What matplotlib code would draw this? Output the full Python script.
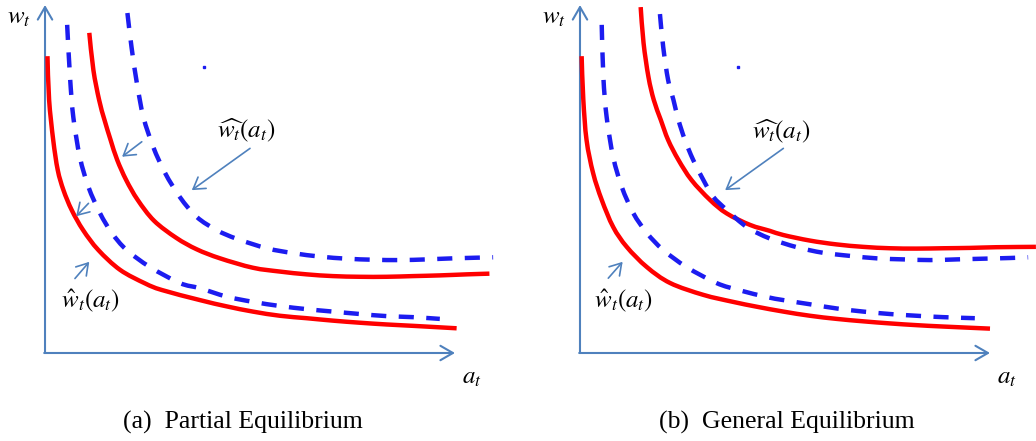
import matplotlib
matplotlib.use('Agg')
import matplotlib.pyplot as plt
from matplotlib.path import Path
from matplotlib.patches import PathPatch

plt.rcParams['mathtext.fontset'] = 'stix'

# curves, a_t on x (axis runs 0..10), w_t on y (0..10)
# panel (a) partial equilibrium
pe_red_low_a = [0.06, 0.10, 0.20, 0.31, 0.45, 0.65, 0.93, 1.30, 1.83, 2.44, 2.85,
                3.78, 4.43, 5.07, 5.73, 6.38, 7.02, 7.68, 8.33, 8.98, 10.04]
pe_red_low_w = [8.53, 7.27, 6.12, 5.26, 4.68, 4.11, 3.53, 2.96, 2.39, 2.00, 1.81,
                1.52, 1.34, 1.19, 1.07, 1.00, 0.93, 0.87, 0.82, 0.78, 0.71]
pe_blue_low_a = [0.54, 0.61, 0.69, 0.85, 1.06, 1.34, 1.63, 1.99, 2.56, 3.29,
                 3.78, 4.43, 5.07, 5.73, 6.38, 7.02, 7.68, 8.33, 8.98, 9.63]
pe_blue_low_w = [9.43, 7.93, 6.78, 5.63, 4.77, 4.02, 3.45, 2.96, 2.47, 2.01,
                 1.86, 1.62, 1.47, 1.35, 1.26, 1.19, 1.12, 1.06, 1.03, 0.98]
pe_red_high_a = [1.08, 1.18, 1.32, 1.45, 1.60, 1.76, 1.98, 2.26, 2.66, 3.20, 3.70,
                 4.27, 5.07, 5.73, 6.38, 7.02, 7.68, 8.33, 8.98, 9.63, 10.29, 10.84]
pe_red_high_w = [9.20, 8.13, 7.27, 6.70, 6.12, 5.55, 4.97, 4.40, 3.80, 3.31, 2.98,
                 2.72, 2.45, 2.34, 2.26, 2.21, 2.19, 2.19, 2.21, 2.23, 2.26, 2.28]
pe_blue_high_a = [2.01, 2.11, 2.24, 2.40, 2.64, 2.93, 3.29, 3.70, 4.19, 4.68,
                  5.41, 6.05, 6.71, 7.36, 8.00, 8.66, 9.31, 9.95, 10.93]
pe_blue_high_w = [9.77, 8.79, 7.76, 6.78, 5.92, 5.17, 4.48, 3.91, 3.53, 3.28,
                  3.01, 2.87, 2.77, 2.71, 2.68, 2.67, 2.69, 2.72, 2.75]

# panel (b) general equilibrium
ge_red_low_a = [0.04, 0.08, 0.16, 0.32, 0.53, 0.81, 1.14, 1.63, 2.20, 3.01,
                3.73, 4.31, 4.96, 5.61, 6.26, 6.91, 7.56, 8.21, 8.86, 10.00]
ge_red_low_w = [8.53, 7.30, 6.12, 5.17, 4.40, 3.62, 3.05, 2.47, 2.01, 1.67,
                1.47, 1.33, 1.19, 1.07, 0.98, 0.91, 0.85, 0.80, 0.76, 0.70]
ge_blue_low_a = [0.53, 0.57, 0.65, 0.81, 1.02, 1.30, 1.63, 2.03, 2.60, 3.33,
                 3.90, 4.55, 4.96, 5.61, 6.26, 6.91, 7.56, 8.21, 8.86, 9.63]
ge_blue_low_w = [9.43, 7.93, 6.78, 5.63, 4.77, 4.02, 3.45, 2.96, 2.47, 2.01,
                 1.80, 1.61, 1.52, 1.40, 1.28, 1.19, 1.12, 1.07, 1.03, 1.00]
ge_red_high_a = [1.48, 1.55, 1.67, 1.80, 1.97, 2.15, 2.40, 2.72, 3.17, 3.58, 4.15,
                 4.63, 4.96, 5.61, 6.26, 6.91, 7.56, 8.21, 8.86, 9.51, 10.16, 11.12]
ge_red_high_w = [9.94, 8.91, 7.93, 7.27, 6.70, 6.12, 5.55, 4.97, 4.40, 4.01, 3.68,
                 3.51, 3.39, 3.23, 3.12, 3.05, 3.01, 3.00, 3.01, 3.02, 3.04, 3.05]
ge_blue_high_a = [1.95, 2.03, 2.15, 2.28, 2.40, 2.56, 2.76, 3.01, 3.25, 3.58, 4.07,
                  4.63, 5.29, 5.93, 6.59, 7.24, 7.89, 8.54, 9.19, 9.84, 10.49, 10.93]
ge_blue_high_w = [9.74, 8.79, 7.84, 7.27, 6.70, 6.12, 5.55, 4.97, 4.49, 4.11, 3.62,
                  3.29, 3.04, 2.88, 2.79, 2.72, 2.69, 2.67, 2.69, 2.71, 2.73, 2.75]

# pointer arrows: (tail, tip)
pe_pointers = [((2.36, 6.07), (1.88, 5.64)),
               ((5.00, 5.88), (3.58, 4.68)),
               ((1.06, 4.30), (0.76, 3.93)),
               ((0.73, 2.14), (1.08, 2.62))]
ge_pointers = [((4.96, 5.88), (3.54, 4.68)),
               ((0.69, 2.15), (1.04, 2.62))]

RED = '#FF0000'
BLUE = '#1C1CF0'
AXC = '#4F81BD'


def smooth_path(a, w):
    # hand-drawn look: pass a cubic bezier through the read points
    pts = list(zip(a, w))
    verts = [pts[0]]
    codes = [Path.MOVETO]
    n = len(pts)
    for i in range(n - 1):
        p0 = pts[max(i - 1, 0)]
        p1 = pts[i]
        p2 = pts[i + 1]
        p3 = pts[min(i + 2, n - 1)]
        c1 = (p1[0] + (p2[0] - p0[0]) / 6, p1[1] + (p2[1] - p0[1]) / 6)
        c2 = (p2[0] - (p3[0] - p1[0]) / 6, p2[1] - (p3[1] - p1[1]) / 6)
        verts += [c1, c2, p2]
        codes += [Path.CURVE4] * 3
    return Path(verts, codes)


def draw_panel(ax, xlim, curves, pointers, hat_wide_pos, hat_pos, stray, caption, cap_x):
    ax.set_xlim(*xlim)
    ax.set_ylim(-2.529, 10.144)
    ax.axis('off')

    red_lo, blue_lo, red_hi, blue_hi = curves
    for a, w in (red_lo, red_hi):
        ax.add_patch(PathPatch(smooth_path(a, w), fill=False, ec=RED, lw=3.2,
                               capstyle='butt', joinstyle='round', zorder=3))
    for a, w in (blue_lo, blue_hi):
        ax.add_patch(PathPatch(smooth_path(a, w), fill=False, ec=BLUE, lw=3.2,
                               linestyle=(0, (3.4, 2.8)), capstyle='butt', zorder=4))

    # axes with open arrow heads
    ax_arrow = dict(arrowstyle='->,head_length=0.45,head_width=0.26', color=AXC,
                    lw=1.5, shrinkA=0, shrinkB=0, mutation_scale=20)
    ax.annotate('', xy=(0, 10.0), xytext=(0, 0), arrowprops=ax_arrow, zorder=2)
    ax.annotate('', xy=(10.0, 0), xytext=(-0.02, 0), arrowprops=ax_arrow, zorder=2)

    ptr = dict(arrowstyle='->,head_length=0.4,head_width=0.25', color=AXC,
               lw=1.2, shrinkA=0, shrinkB=0, mutation_scale=20)
    for tail, tip in pointers:
        ax.annotate('', xy=tip, xytext=tail, arrowprops=ptr, zorder=5)

    ax.plot([stray[0]], [stray[1]], marker='s', ms=1.5, color=BLUE, lw=0)

    ax.text(hat_wide_pos[0], hat_wide_pos[1], r'$\widehat{w_t}(a_t)$',
            fontsize=18, ha='center', va='center')
    ax.text(hat_pos[0], hat_pos[1], r'$\hat{w}_t(a_t)$',
            fontsize=18, ha='center', va='center')
    ax.text(-0.63, 9.66, r'$w_t$', fontsize=18, ha='center', va='center')
    ax.text(10.41, -0.68, r'$a_t$', fontsize=18, ha='center', va='center')

    ax.text(cap_x, 0.043, caption, transform=ax.transAxes, fontsize=18.5,
            family='Liberation Serif', ha='center', va='center')


fig = plt.figure(figsize=(10.36, 4.41), dpi=100)
ax1 = fig.add_axes([0, 0, 0.5, 1])
ax2 = fig.add_axes([0.5, 0, 0.5, 1])

draw_panel(ax1, (-1.098, 11.537),
           [(pe_red_low_a, pe_red_low_w), (pe_blue_low_a, pe_blue_low_w),
            (pe_red_high_a, pe_red_high_w), (pe_blue_high_a, pe_blue_high_w)],
           pe_pointers, (4.92, 6.41), (1.10, 1.52), (3.88, 8.22),
           '(a)  Partial Equilibrium', 0.469)
draw_panel(ax2, (-1.512, 11.122),
           [(ge_red_low_a, ge_red_low_w), (ge_blue_low_a, ge_blue_low_w),
            (ge_red_high_a, ge_red_high_w), (ge_blue_high_a, ge_blue_high_w)],
           ge_pointers, (4.92, 6.36), (1.06, 1.52), (3.86, 8.23),
           '(b)  General Equilibrium', 0.519)

fig.savefig('out.png', dpi=100)
